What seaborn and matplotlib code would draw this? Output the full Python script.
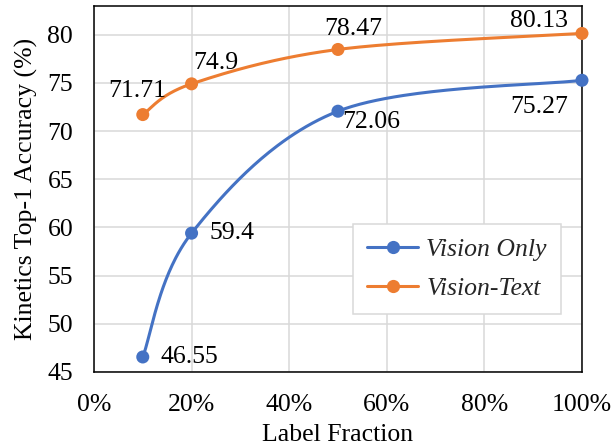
import numpy as np
import pandas as pd
import matplotlib
matplotlib.use("Agg")
import matplotlib.pyplot as plt
from matplotlib.lines import Line2D
from matplotlib.ticker import PercentFormatter
import seaborn as sns

# Label fraction (as a fraction of the labelled set)
fractions = [0.10, 0.20, 0.50, 1.00]
vision_only = [46.55, 59.4, 72.06, 75.27]
vision_text = [71.71, 74.9, 78.47, 80.13]

series_names = ["Vision Only", "Vision-Text"]
series_colors = ["#4472C4", "#ED7D31"]

sns.set_theme(style="whitegrid")
plt.rcParams["font.family"] = ["Liberation Serif", "DejaVu Serif"]

FS = 18.5

fig = plt.figure(figsize=(6.15, 4.47), dpi=100)
ax = fig.add_axes([0.1528, 0.168, 0.7935, 0.819])

XMIN, XMAX, YMIN, YMAX = 0.0, 1.0, 45.0, 83.0
ax.set_xlim(XMIN, XMAX)
ax.set_ylim(YMIN, YMAX)
W_PX, H_PX = 488.0, 366.0  # axes size in pixels, used for the spline metric


def smooth_curve(xs, ys, n=60):
    """Catmull-Rom spline through the points, computed in screen proportions."""
    px = (np.asarray(xs) - XMIN) / (XMAX - XMIN) * W_PX
    py = (np.asarray(ys) - YMIN) / (YMAX - YMIN) * H_PX
    pts = np.column_stack([px, py])
    ext = np.vstack([pts[0], pts, pts[-1]])
    out = []
    t = np.linspace(0, 1, n)[:, None]
    for i in range(1, len(ext) - 2):
        p0, p1, p2, p3 = ext[i - 1], ext[i], ext[i + 1], ext[i + 2]
        c1 = p1 + (p2 - p0) / 6.0
        c2 = p2 - (p3 - p1) / 6.0
        seg = ((1 - t) ** 3) * p1 + 3 * ((1 - t) ** 2) * t * c1 + 3 * (1 - t) * t ** 2 * c2 + t ** 3 * p2
        out.append(seg if i == 1 else seg[1:])
    out = np.vstack(out)
    sx = out[:, 0] / W_PX * (XMAX - XMIN) + XMIN
    sy = out[:, 1] / H_PX * (YMAX - YMIN) + YMIN
    return sx, sy


for name, vals, color in zip(series_names, [vision_only, vision_text], series_colors):
    sx, sy = smooth_curve(fractions, vals)
    curve = pd.DataFrame({"x": sx, "y": sy})
    sns.lineplot(data=curve, x="x", y="y", sort=False, ax=ax, color=color,
                 linewidth=2.2, estimator=None, zorder=3)
    pts = pd.DataFrame({"x": fractions, "y": vals})
    sns.scatterplot(data=pts, x="x", y="y", ax=ax, color=color, s=88,
                    edgecolor="none", zorder=4, clip_on=False)

# Value labels: offsets in points, alignment per label
label_style = {
    "Vision Only": [((13, 0), "left", "center"),
                    ((13, 0), "left", "center"),
                    ((3, -8), "left", "center"),
                    ((-10, -19), "right", "center")],
    "Vision-Text": [((-4, 17), "center", "center"),
                    ((1, 15), "left", "center"),
                    ((11, 15), "center", "center"),
                    ((-10, 9), "right", "center")],
}
for name, vals in zip(series_names, [vision_only, vision_text]):
    for (off, ha, va), x, v in zip(label_style[name], fractions, vals):
        ax.annotate(f"{v:g}", (x, v), xytext=off, textcoords="offset points",
                    ha=ha, va=va, fontsize=FS, color="black", zorder=5)

ax.set_xticks(np.arange(0, 1.01, 0.2))
ax.set_yticks(np.arange(45, 81, 5))
ax.xaxis.set_major_formatter(PercentFormatter(xmax=1.0, decimals=0))
ax.tick_params(axis="x", labelsize=FS, length=0, pad=16, colors="black")
ax.tick_params(axis="y", labelsize=FS, length=0, pad=15, colors="black")
ax.grid(True, color="#D9D9D9", linewidth=1.1)
ax.set_axisbelow(True)
for sp in ax.spines.values():
    sp.set_color("black")
    sp.set_linewidth(1.1)

ax.set_xlabel("Label Fraction", fontsize=FS, color="black", labelpad=6)
ax.set_ylabel("Kinetics Top-1 Accuracy (%)", fontsize=FS, color="black", labelpad=7)

handles = [Line2D([0], [0], color=c, linewidth=2.2, marker="o", markersize=9.5,
                  markeredgewidth=0) for c in series_colors]
leg = ax.legend(handles, series_names, loc="upper left",
                bbox_to_anchor=(0.5307, 0.404), frameon=True, fancybox=False,
                prop={"family": "Liberation Serif", "style": "italic", "size": FS},
                handlelength=2.0, handletextpad=0.3, labelspacing=0.6,
                borderpad=0.55, borderaxespad=0.0)
leg.get_frame().set_edgecolor("#D9D9D9")
leg.get_frame().set_linewidth(1.1)
leg.get_frame().set_facecolor("white")
leg.get_frame().set_alpha(1.0)

fig.savefig("out.png", dpi=100)
